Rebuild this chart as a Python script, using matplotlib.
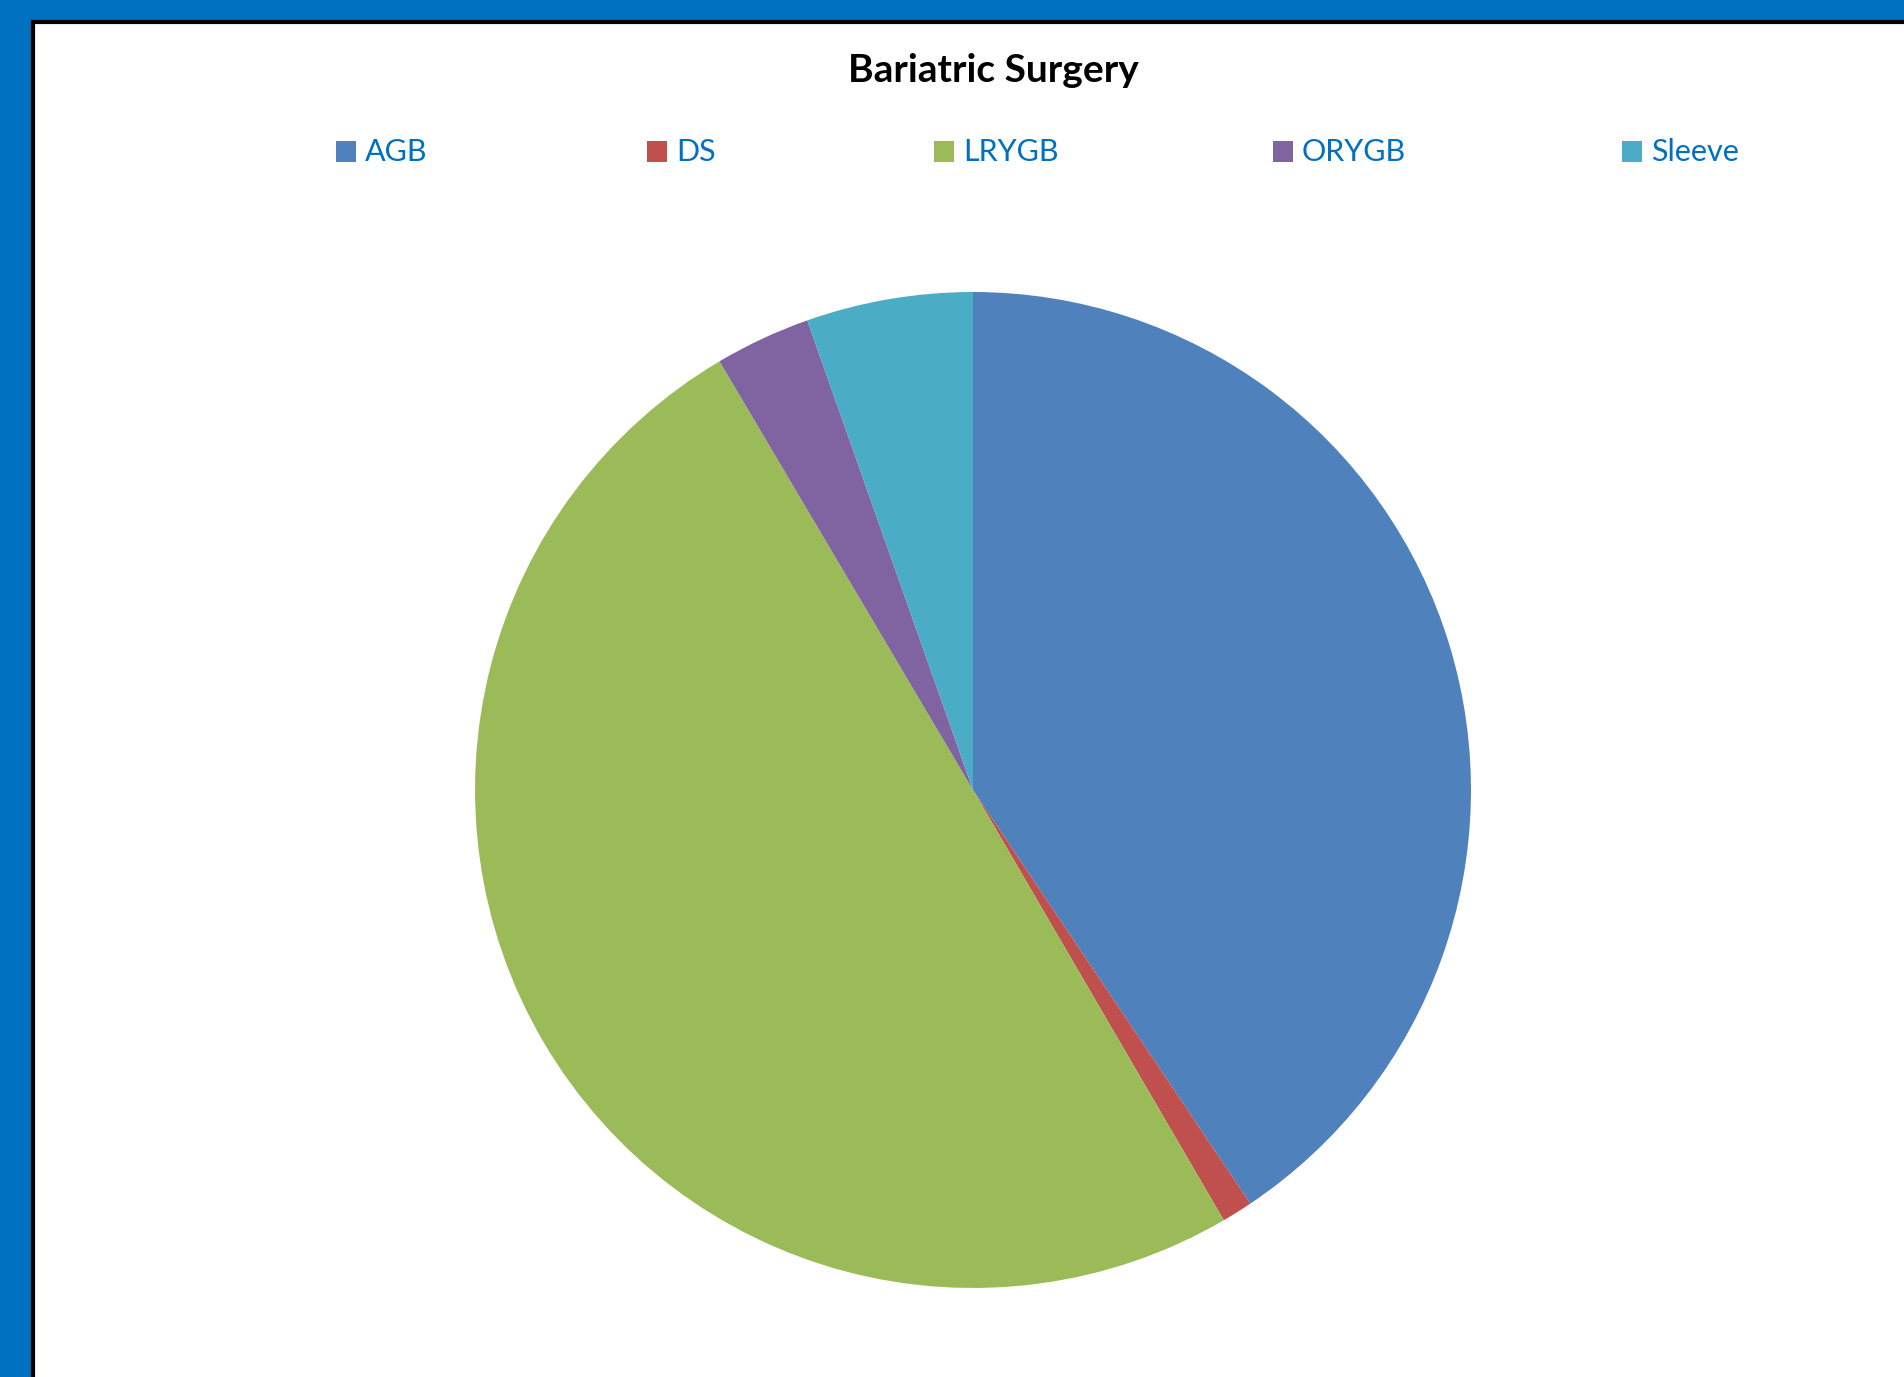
import matplotlib.pyplot as plt
from matplotlib.patches import Rectangle

# data (share of procedures, %)
procedures = ["AGB", "DS", "LRYGB", "ORYGB", "Sleeve"]
shares = [40.6, 1.0, 49.9, 3.1, 5.4]
colors = ["#4F81BD", "#C0504D", "#9BBB59", "#8064A2", "#4BACC6"]
title = "Bariatric Surgery"

W, H = 1904, 1377
fig = plt.figure(figsize=(W / 100, H / 100), dpi=100)
fig.patch.set_facecolor("#0070C0")

# white chart panel with thin black edge
panel = Rectangle((33 / W, -0.05), 1.1, 1 - 22 / H + 0.05, transform=fig.transFigure,
                  facecolor="white", edgecolor="black", linewidth=3, zorder=-5)
fig.patches.append(panel)

# pie axes: centre (973, 790) px, radius 498 px
cx, cy, r = 973, 790, 498
ax = fig.add_axes([(cx - r) / W, (H - cy - r) / H, 2 * r / W, 2 * r / H])
ax.set_zorder(2)
ax.pie(shares, colors=colors, startangle=90, counterclock=False,
       wedgeprops=dict(linewidth=0))
ax.set_xlim(-1, 1)
ax.set_ylim(-1, 1)
ax.set_aspect("equal")
ax.axis("off")

fig.text(993 / W, 1 - 70 / H, title, ha="center", va="center",
         fontsize=28, fontweight="bold", family="Lato", color="black")

# legend, one item at a time (Excel-like uneven spacing)
marker_x = [336, 647, 934, 1273, 1622]
leg_y = 152
for name, col, mx in zip(procedures, colors, marker_x):
    fig.patches.append(Rectangle((mx / W, 1 - (leg_y + 10) / H), 20 / W, 21 / H,
                                 transform=fig.transFigure, facecolor=col,
                                 edgecolor="none"))
    fig.text((mx + 29) / W, 1 - leg_y / H, name, ha="left", va="center",
             fontsize=22, family="Lato", color="#0070C0")

fig.savefig("out.png", dpi=100)
